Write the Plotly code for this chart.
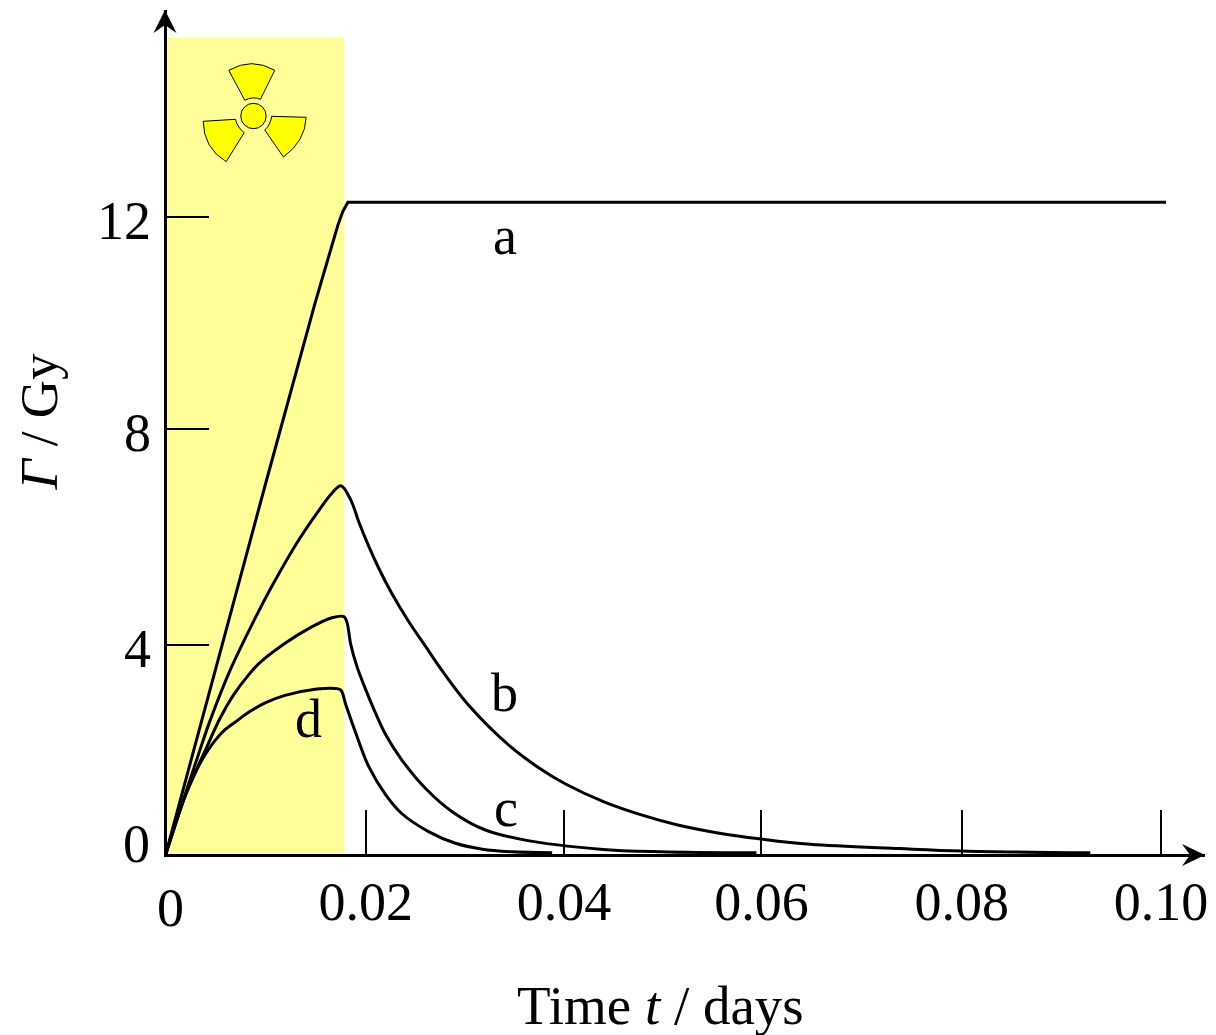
import plotly.graph_objects as go

# Data
t_a = [0, .005, .010, .015, .0173, .0178, .0183, .05, .1004]
g_a = [0, 3.5, 6.95, 10.37, 11.84, 12.1, 12.27, 12.27, 12.27]
t_b = [0, .0018, .0035, .0045, .0065, .0087, .0107, .0134, .0154, .0167, .0176, .0186, .0194, .0204, .0214, .0227, .0244, .0261, .0277, .0304, .0346, .0373, .0401, .0440, .0480, .0513, .0553, .0598, .0647, .0737, .08, .0928]
g_b = [0, 1.04, 2.00, 2.54, 3.48, 4.34, 5.06, 5.93, 6.48, 6.80, 6.94, 6.67, 6.26, 5.80, 5.39, 4.92, 4.39, 3.92, 3.48, 2.82, 2.04, 1.66, 1.34, 1.00, .74, .57, .42, .30, .20, .12, .075, .04]
t_c = [0, .0020, .0040, .0055, .0068, .0084, .0095, .0120, .0144, .0167, .0179, .0182, .0186, .0192, .0200, .0210, .0221, .0237, .0261, .0288, .0321, .0361, .0436, .0496, .0593]
g_c = [0, 1.12, 1.97, 2.58, 3.00, 3.40, 3.62, 3.98, 4.26, 4.46, 4.48, 4.38, 3.95, 3.55, 3.15, 2.70, 2.26, 1.79, 1.25, .81, .47, .28, .11, .06, .04]
t_d = [0, .0018, .0030, .0037, .0050, .0060, .0070, .0085, .0100, .0120, .0152, .0171, .0176, .0181, .0191, .0204, .0221, .0237, .0264, .0291, .0318, .0348, .0388]
g_d = [0, 1.03, 1.55, 1.80, 2.16, 2.36, 2.50, 2.70, 2.86, 3.00, 3.12, 3.13, 3.10, 2.82, 2.29, 1.66, 1.13, .78, .44, .22, .11, .06, .04]
x_ticks = [.0201, .0400, .0598, .0799, .0999]
x_tick_text = ["0.02", "0.04", "0.06", "0.08", "0.10"]
y_ticks = [3.95, 8, 12]
y_tick_text = ["4", "8", "12"]
irr_end = 0.01795
curve_labels = [("a", .0341, 11.64), ("b", .0340, 3.05), ("c", .0342, .88), ("d", .0143, 2.55)]

FONT = "Liberation Serif"
FS = 54
W, H = 1216, 1035
L, R, T, B = 166.5, 1205, 10, 854
X0_PX, Y0_PX, SX, SY = 165, 855, 9970, 53.2
R_MARGIN = 8
xrange_ = [(L - X0_PX) / SX, (R - X0_PX) / SX]
yrange_ = [(Y0_PX - B) / SY, (Y0_PX - T) / SY]


def px(a):
    return (a - L) / (R - L)


def py(b):
    return (B - b) / (B - T)


def P(*cmds):
    """Pixel outline commands -> paper-space SVG path for decorative glyphs."""
    s = ""
    for c in cmds:
        s += c[0] + " ".join(f"{px(c[i]):.5f},{py(c[i + 1]):.5f}" for i in range(1, len(c), 2)) + " "
    return s + "Z"


fig = go.Figure()
for name, xs, ys, shape in [("a", t_a, g_a, "linear"), ("b", t_b, g_b, "spline"), ("c", t_c, g_c, "spline"), ("d", t_d, g_d, "spline")]:
    line = dict(color="black", width=3, shape=shape)
    if shape == "spline":
        line["smoothing"] = 1.0
    fig.add_trace(go.Scatter(x=xs, y=ys, mode="lines", name=name, cliponaxis=False, line=line))

fig.add_shape(type="rect", x0=0.0002, x1=irr_end, y0=0, y1=15.36, fillcolor="#FFFF99",
              line_width=0, layer="below")

blades = [
    P(("M", 228.3, 70.3), ("Q", 251.3, 57, 274.3, 70.3), ("L", 260, 99.3), ("Q", 252.3, 96, 244.3, 100.3)),
    P(("M", 202.7, 121.3), ("L", 235, 119.3), ("Q", 237.3, 128, 243.7, 132.7), ("L", 225.7, 161.7), ("Q", 203, 148, 202.7, 121.3)),
    P(("M", 271.3, 116.3), ("L", 305.7, 117.3), ("Q", 305, 141, 283, 157), ("L", 264.3, 130), ("Q", 270, 125, 271.3, 116.3)),
]
for blade in blades:
    fig.add_shape(type="path", xref="paper", yref="paper", path=blade, fillcolor="#FFFF00",
                  line=dict(color="black", width=1))
fig.add_shape(type="circle", xref="paper", yref="paper", x0=px(240.3), x1=px(265.7), y0=py(128.7), y1=py(103.3),
              fillcolor="#FFFF00", line=dict(color="black", width=1))
fig.add_shape(type="path", xref="paper", yref="paper", fillcolor="black", line_width=0,
              path=P(("M", 164.5, 10), ("L", 176, 33), ("L", 164.5, 25), ("L", 153, 33)))
fig.add_shape(type="path", xref="paper", yref="paper", fillcolor="black", line_width=0,
              path=P(("M", 1205, 855), ("L", 1182, 866), ("L", 1190, 855), ("L", 1182, 844)))

for text, x, y in curve_labels:
    fig.add_annotation(x=x, y=y, text=text, showarrow=False, font=dict(family=FONT, size=FS))
fig.add_annotation(xref="paper", yref="paper", x=px(170), y=py(908), text="0", showarrow=False,
                   xanchor="center", yanchor="middle", font=dict(family=FONT, size=FS))
fig.add_annotation(xref="paper", yref="paper", x=px(151), y=py(844), text="0", showarrow=False,
                   xanchor="right", yanchor="middle", font=dict(family=FONT, size=FS))
for value, text in zip(y_ticks, y_tick_text):
    fig.add_annotation(xref="paper", yref="y", x=px(152), y=value, text=text, showarrow=False,
                       xanchor="right", yanchor="middle", yshift=-4, font=dict(family=FONT, size=FS))
fig.add_annotation(xref="paper", yref="paper", x=px(660), y=py(1005), text="Time <i>t</i> / days", showarrow=False,
                   xanchor="center", yanchor="middle", font=dict(family=FONT, size=FS + 1))
fig.add_annotation(xref="paper", yref="paper", x=px(38), y=py(422), text="<i>Γ</i> / Gy", showarrow=False,
                   xanchor="center", yanchor="middle", textangle=-90, font=dict(family=FONT, size=FS - 1))

fig.update_layout(
    width=W, height=H, paper_bgcolor="white", plot_bgcolor="white", showlegend=False,
    margin=dict(l=L, r=R_MARGIN, t=T, b=H - B), font=dict(family=FONT, size=FS, color="black"),
    xaxis=dict(range=xrange_, showgrid=False, zeroline=False, showline=True, linecolor="black", linewidth=3,
               tickmode="array", tickvals=x_ticks, ticktext=x_tick_text, ticks="inside", ticklen=44,
               tickwidth=2, tickcolor="black", tickfont=dict(family=FONT, size=FS), tickangle=0,
               ticklabelstandoff=-2),
    yaxis=dict(range=yrange_, showgrid=False, zeroline=False, showline=True, linecolor="black", linewidth=3,
               tickmode="array", tickvals=y_ticks, ticktext=y_tick_text, ticks="inside", ticklen=42,
               tickwidth=2, tickcolor="black", showticklabels=False),
)
fig.write_html("out.html", post_script="document.body.style.margin='0';", config={"displayModeBar": False})
